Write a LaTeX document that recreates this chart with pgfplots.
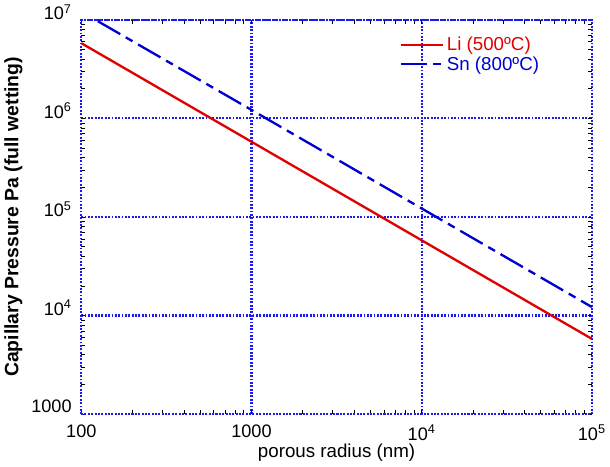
\documentclass[border=0pt]{standalone}
\usepackage{pgfplots}
\pgfplotsset{compat=1.18}
\usepackage{fontspec}
\setmainfont{Liberation Sans}
\definecolor{lired}{HTML}{E00000}
\definecolor{snblue}{HTML}{0000D0}
\definecolor{gridblue}{HTML}{1A1AF0}
\begin{document}
\begin{tikzpicture}
\begin{loglogaxis}[
    scale only axis,
    width=395pt, height=305pt,
    xmin=100, xmax=100000,
    ymin=1000, ymax=10000000,
    xtick={100,1000,10000,100000},
    xticklabels={100,1000,10\textsuperscript{4},10\textsuperscript{5}},
    ytick={1000,10000,100000,1000000,10000000},
    yticklabels={1000,10\textsuperscript{4},10\textsuperscript{5},10\textsuperscript{6},10\textsuperscript{7}},
    tick label style={font=\fontsize{14}{16}\selectfont},
    xticklabel style={yshift=-5pt},
    yticklabel style={xshift=-4pt, yshift=6pt},
    xlabel={porous radius (nm)},
    ylabel={\bfseries Capillary Pressure Pa (full wetting)},
    xlabel style={font=\fontsize{14.5}{16}\selectfont, yshift=4pt},
    ylabel style={font=\fontsize{15}{17}\selectfont, yshift=0pt},
    axis line style={gridblue, dash pattern=on 1.4pt off 1.2pt, line width=1.8pt},
    grid=major,
    major grid style={gridblue, dash pattern=on 1.4pt off 1.2pt, line width=1.6pt},
    tick style={black, line width=0.4pt},
    major tick length=0pt,
    minor tick length=3pt,
    tick align=inside,
    legend style={draw=none, fill=none, at={(0.91,0.97)}, anchor=north east,
        font=\fontsize{14.5}{16}\selectfont, row sep=-1pt},
    legend cell align=left,
    legend image code/.code={\draw[#1] (0cm,0cm) -- (1.15cm,0cm);},
]
\addplot[lired, line width=1.8pt] coordinates {
    (100, 5800000)
    (1000, 580000)
    (10000, 58000)
    (100000, 5800)
};
\addlegendentry{\textcolor{lired}{Li (500ºC)}}
\addplot[snblue, line width=1.8pt, dash pattern=on 20pt off 5pt on 6pt off 5pt] coordinates {
    (125, 9700000)
    (1000, 1220000)
    (10000, 122000)
    (100000, 12200)
};
\addlegendentry{\textcolor{snblue}{Sn (800ºC)}}
\end{loglogaxis}
\end{tikzpicture}
\end{document}
